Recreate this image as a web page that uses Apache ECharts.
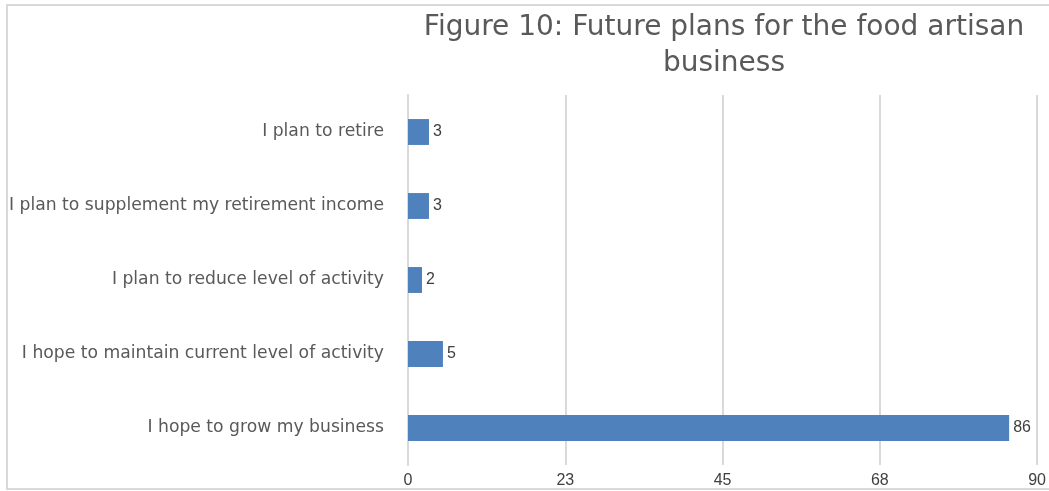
<!DOCTYPE html>
<html>
<head>
<meta charset="utf-8">
<script src="https://cdn.jsdelivr.net/npm/echarts@6/dist/echarts.min.js"></script>
<style>
  html, body { margin: 0; padding: 0; background: #fff; }
  #chart { width: 1049px; height: 491px; }
</style>
</head>
<body>
<div id="chart"></div>
<script>
// Survey responses, listed bottom to top as drawn on the category axis
const categories = [
  'I hope to grow my business',
  'I hope to maintain current level of activity',
  'I plan to reduce level of activity',
  'I plan to supplement my retirement income',
  'I plan to retire'
];
const values = [86, 5, 2, 3, 3];
const titleText = 'Figure 10: Future plans for the food artisan\nbusiness';

const chart = echarts.init(document.getElementById('chart'));
chart.setOption({
  animation: false,
  backgroundColor: '#fff',
  graphic: [{
    type: 'rect',
    shape: { x: 7, y: 5, width: 1100, height: 484 },
    style: { fill: 'none', stroke: '#d9d9d9', lineWidth: 2 },
    silent: true,
    z: -1
  }],
  title: {
    text: titleText,
    left: 719,
    textAlign: 'center',
    top: 5,
    textStyle: {
      fontFamily: 'DejaVu Sans',
      fontSize: 28,
      fontWeight: 'normal',
      color: '#595959',
      lineHeight: 36
    }
  },
  grid: { left: 408, right: 4, top: 95, bottom: 26, containLabel: false },
  xAxis: {
    type: 'value',
    min: 0, max: 90, interval: 22.5,
    axisLine: { show: false },
    axisTick: { show: false },
    splitLine: { show: true, lineStyle: { color: '#d9d9d9', width: 2 } },
    axisLabel: {
      formatter: v => String(Math.round(v)),
      fontFamily: 'Liberation Sans',
      fontSize: 16,
      color: '#404040',
      margin: 8
    }
  },
  yAxis: {
    type: 'category',
    data: categories,
    axisLine: { show: true, lineStyle: { color: '#d9d9d9', width: 2 } },
    axisTick: { show: false },
    axisLabel: {
      fontFamily: 'DejaVu Sans',
      fontSize: 17.2,
      color: '#595959',
      margin: 24
    }
  },
  series: [{
    type: 'bar',
    data: values,
    barWidth: '35%',
    itemStyle: { color: '#4f81bd' },
    label: {
      show: true,
      position: 'right',
      distance: 4,
      fontFamily: 'Liberation Sans',
      fontSize: 16,
      color: '#404040'
    }
  }]
});
</script>
</body>
</html>
